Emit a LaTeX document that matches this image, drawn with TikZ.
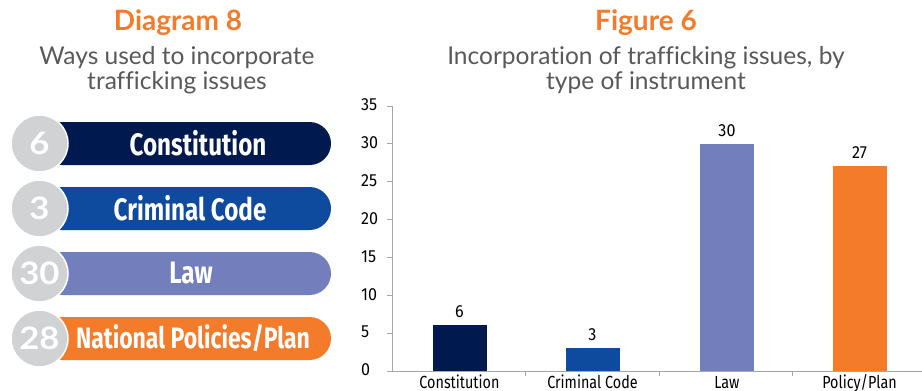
\documentclass[tikz,border=0pt]{standalone}
\usepackage{fontspec}
\setmainfont[Ligatures=NoCommon]{Lato}
\newfontfamily\pillfont[FakeStretch=0.78]{Fira Sans}
\newfontfamily\chartfont[FakeStretch=0.82]{Fira Sans}
\newfontfamily\digitfont[FakeStretch=0.92]{Fira Sans}
\newfontfamily\numfont[FakeStretch=1.12]{Lato}
\definecolor{orng}{HTML}{F47B2A}
\definecolor{navy}{HTML}{001A4F}
\definecolor{blu}{HTML}{0E4A9E}
\definecolor{lav}{HTML}{737FBC}
\definecolor{circ}{HTML}{D1D2D4}
\definecolor{txtgray}{HTML}{595959}
\definecolor{axgray}{HTML}{A6A6A6}
\tikzset{
  title/.style={text=orng, font=\fontsize{28}{32}\selectfont\bfseries, inner sep=0pt},
  subtitle/.style={text=txtgray, font=\fontsize{24.5}{25}\selectfont, align=center, inner sep=0pt},
  pilltext/.style={text=white, font=\pillfont\fontsize{31}{33}\selectfont\bfseries, inner sep=0pt},
  numcirc/.style={circle, fill=circ, draw=white, line width=1.5pt, minimum size=57pt, inner sep=0pt,
     text=white, font=\numfont\fontsize{31}{33}\selectfont\bfseries},
  bar/.style={minimum width=54pt, inner sep=0pt, anchor=south},
  vallab/.style={font=\digitfont\fontsize{17.5}{19}\selectfont, text=black, inner sep=0pt, anchor=south},
  ylab/.style={font=\digitfont\fontsize{17.5}{19}\selectfont, text=black, inner sep=0pt, anchor=west},
  catlab/.style={font=\chartfont\fontsize{17.5}{19}\selectfont, text=black, inner sep=0pt, anchor=base},
  axis/.style={draw=axgray, line width=0.8pt}
}
\begin{document}
\begin{tikzpicture}[x=1pt, y=-1pt]
\useasboundingbox[fill=white] (0,0) rectangle (922,391);

% ---------- Left: Diagram 8 ----------
\node[title] (t1) at (178,23) {Diagram 8};
\node[subtitle] (s1) at (177,70.5) {Ways used to incorporate\\trafficking issues};

\fill[navy, rounded corners=21.5pt] (40,122) rectangle (331,165);
\node[pilltext] (p1) at (198,143.5) {Constitution};
\node[numcirc] (c1) at (39.5,143.5) {6};

\fill[blu, rounded corners=21.5pt] (40,187) rectangle (331,230);
\node[pilltext] (p2) at (190,208.5) {Criminal Code};
\node[numcirc] (c2) at (39.5,208.5) {3};

\fill[lav, rounded corners=21.5pt] (40,252) rectangle (331,295);
\node[pilltext] (p3) at (191,273.5) {Law};
\node[numcirc] (c3) at (39.5,273.5) {30};

\fill[orng, rounded corners=21.5pt] (40,317) rectangle (331,360);
\node[pilltext, font=\pillfont\fontsize{29.5}{33}\selectfont\bfseries] (p4) at (193,338.5) {National Policies/Plan};
\node[numcirc] (c4) at (39.5,338.5) {28};

% ---------- Right: Figure 6 ----------
\node[title] (t2) at (646,23) {Figure 6};
\node[subtitle] (s2) at (646,70.5) {Incorporation of trafficking issues, by\\type of instrument};

% axes
\coordinate (o) at (392,371);
\coordinate (ytop) at (392,106);
\coordinate (xend) at (922,371);
\draw[axis] (ytop) -- (o) -- (xend);
\foreach \v in {0,5,...,35}{
  \draw[axis] (387,{371-\v*7.571}) -- (392,{371-\v*7.571});
  \node[ylab] at (361,{370-\v*7.571}) {\v};
}
\foreach \xx in {525.5,659,792.5}{
  \draw[axis] (\xx,371) -- (\xx,376);
}

% bars
\node[bar, fill=navy, minimum height=45.4pt] (b1) at (459.5,371) {};
\node[bar, fill=blu, minimum height=22.7pt] (b2) at (592.5,371) {};
\node[bar, fill=lav, minimum height=227.1pt] (b3) at (727,371) {};
\node[bar, fill=orng, minimum height=204.4pt] (b4) at (859.5,371) {};

\node[vallab] (v1) at ([yshift=7pt]b1.north) {6};
\node[vallab] (v2) at ([yshift=7pt]b2.north) {3};
\node[vallab] (v3) at ([yshift=7pt]b3.north) {30};
\node[vallab] (v4) at ([yshift=7pt]b4.north) {27};

\node[catlab] (k1) at (459.5,388) {Constitution};
\node[catlab] (k2) at (592.5,388) {Criminal Code};
\node[catlab] (k3) at (727,388) {Law};
\node[catlab] (k4) at (859.5,388) {Policy/Plan};
\end{tikzpicture}
\end{document}
